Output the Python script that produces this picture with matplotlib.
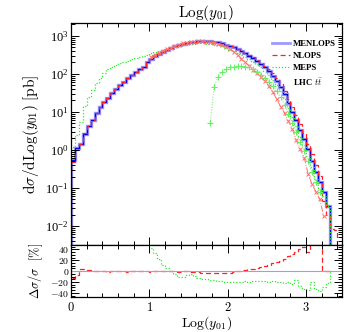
import numpy as np
import matplotlib
matplotlib.use('Agg')
import matplotlib.pyplot as plt
from matplotlib.ticker import MultipleLocator, LogLocator, FuncFormatter, NullFormatter
from matplotlib.lines import Line2D

plt.rcParams['mathtext.fontset'] = 'cm'
plt.rcParams['font.family'] = 'serif'
plt.rcParams['font.serif'] = ['Liberation Serif', 'DejaVu Serif']

bin_width = 0.05

# log10 of dsigma/dLog(y01) per bin, bins start at 0
menlops = [-0.27, 0.05, 0.15, 0.42, 0.62, 0.80, 0.97, 1.12, 1.25, 1.37,
           1.49, 1.60, 1.70, 1.79, 1.88, 1.96, 2.04, 2.12, 2.19, 2.30,
           2.40, 2.47, 2.53, 2.58, 2.63, 2.67, 2.72, 2.76, 2.79, 2.81,
           2.83, 2.85, 2.86, 2.86, 2.86, 2.86, 2.85, 2.83, 2.80, 2.77,
           2.74, 2.70, 2.65, 2.60, 2.55, 2.48, 2.42, 2.34, 2.26, 2.17,
           2.07, 1.95, 1.82, 1.66, 1.47, 1.24, 1.00, 0.78, 0.52, 0.28,
           0.02, -0.30, -0.58, -0.85, -1.10, -1.48]

nlops = [-0.32, 0.01, 0.16, 0.44, 0.63, 0.80, 0.97, 1.12, 1.25, 1.37,
         1.49, 1.60, 1.70, 1.79, 1.88, 1.96, 2.04, 2.12, 2.19, 2.30,
         2.40, 2.47, 2.53, 2.58, 2.63, 2.67, 2.72, 2.76, 2.79, 2.81,
         2.83, 2.84, 2.85, 2.85, 2.85, 2.84, 2.83, 2.81, 2.78, 2.76,
         2.73, 2.70, 2.65, 2.60, 2.56, 2.49, 2.44, 2.37, 2.29, 2.21,
         2.12, 2.01, 1.88, 1.73, 1.56, 1.34, 1.12, 0.91, 0.67, 0.44,
         0.16, -0.12, -0.40, -0.68, -1.35, -1.70, -2.07, -2.10]

meps = [0.08, 0.39, 0.74, 1.15, 1.40, 1.58, 1.75, 1.90, 2.02, 2.12,
        2.19, 2.24, 2.28, 2.32, 2.35, 2.38, 2.41, 2.44, 2.47, 2.50,
        2.54, 2.57, 2.60, 2.63, 2.66, 2.69, 2.71, 2.72, 2.75, 2.77,
        2.78, 2.79, 2.80, 2.80, 2.79, 2.79, 2.77, 2.75, 2.72, 2.68,
        2.64, 2.60, 2.55, 2.50, 2.45, 2.38, 2.32, 2.25, 2.17, 2.08,
        1.97, 1.85, 1.71, 1.54, 1.35, 1.11, 0.86, 0.62, 0.34, 0.12,
        -0.15, -0.44, -0.76, -1.00, -1.22, -1.48]

# curves with markers (first bin index, log10 values)
nlops_x_start = 20
nlops_x = [2.45, 2.50, 2.56, 2.61, 2.65, 2.69, 2.73, 2.77, 2.80, 2.82,
           2.84, 2.85, 2.86, 2.86, 2.85, 2.84, 2.82, 2.79, 2.75, 2.71,
           2.66, 2.58, 2.50, 2.40, 2.30, 2.21, 2.11, 2.02, 1.91, 1.80,
           1.68, 1.52, 1.33, 1.14, 0.96, 0.75, 0.55, 0.25, 0.02, -0.20,
           -0.62, -0.90, -1.10, -1.30, -1.75]

meps_plus_start = 35
meps_plus = [0.70, 1.66, 1.93, 2.05, 2.13, 2.17, 2.19, 2.20, 2.20, 2.19,
             2.17, 2.12, 2.06, 1.98, 1.89, 1.79, 1.68, 1.55, 1.38, 1.18,
             0.95, 0.72, 0.48, 0.22, -0.02, -0.30, -0.58, -0.85, -1.10]

# ratio panel, (X - MENLOPS)/MENLOPS in %
ratio_nlops = [-12, -8, 3, 4, 2, 1, 0, 1, 0, -1,
               0, 1, 0, 0, -1, 0, 1, 0, 0, 0,
               -1, 0, 0, 1, 0, 0, 0, -1, 0, 0,
               -1, -2, -2, -3, -3, -4, -4, -4, -4, -3,
               -3, -1, 0, 1, 2, 3, 4, 6, 7, 9,
               11, 14, 16, 18, 22, 27, 31, 36, 40, 44,
               36, 60, 60, 60, 0, 0]

ratio_meps = [150, 150, 150, 150, 150, 150, 150, 150, 150, 150,
              150, 150, 150, 150, 150, 150, 150, 150, 150, 150,
              42, 33, 22, 12, 6, 0, -5, -11, -10, -8,
              -6, -9, -12, -14, -15, -16, -17, -18, -19, -20,
              -21, -21, -20, -20, -19, -20, -19, -19, -18, -19,
              -20, -19, -21, -20, -22, -20, -24, -17, -27, -33,
              -34, -20, -33, -36, -30, -22]

c_blue = '#0000ee'
c_lblue = '#9a9aff'
c_red = '#ff2020'
c_lred = '#ff7070'
c_green = '#22ee22'
c_lgreen = '#66ee66'


def edges_for(vals, start=0):
    return bin_width * (start + np.arange(len(vals) + 1))


def centers_for(vals, start):
    return bin_width * (start + np.arange(len(vals)) + 0.5)


fig = plt.figure(figsize=(3.47, 3.32), dpi=100)
ax = fig.add_axes([0.205, 0.262, 0.781, 0.669])
axr = fig.add_axes([0.205, 0.105, 0.781, 0.157], sharex=ax)

base = 1e-6
ax.stairs(10 ** np.array(menlops), edges_for(menlops), baseline=base,
          color=c_lblue, lw=2.4)
ax.stairs(10 ** np.array(menlops), edges_for(menlops), baseline=base,
          color=c_blue, lw=0.9)
ax.stairs(10 ** np.array(nlops), edges_for(nlops), baseline=base,
          color=c_red, lw=0.9, ls=(0, (4, 2.5)))
ax.stairs(10 ** np.array(meps), edges_for(meps), baseline=base,
          color=c_green, lw=0.9, ls=(0, (1, 1.5)))
ax.plot(centers_for(nlops_x, nlops_x_start), 10 ** np.array(nlops_x),
        color=c_lred, lw=0.7, ls='-.', marker='x', ms=2.5, mew=0.7)
ax.plot(centers_for(meps_plus, meps_plus_start), 10 ** np.array(meps_plus),
        color=c_lgreen, lw=0.7, ls=':', marker='+', ms=4, mew=0.8)

ax.set_yscale('log')
ax.set_xlim(0, 3.46)
ax.set_ylim(10 ** -2.5, 10 ** 3.34)

axr.axhline(0, color=c_lblue, lw=0.8)
axr.stairs(ratio_nlops, edges_for(ratio_nlops), baseline=0,
           color=c_red, lw=0.9, ls=(0, (4, 2.5)))
axr.stairs(ratio_meps, edges_for(ratio_meps), baseline=0,
           color=c_green, lw=0.9, ls=(0, (1, 1.5)))
axr.set_ylim(-48, 48)

# ticks
math_int = FuncFormatter(lambda v, p: r'$%d$' % round(v))
ax.yaxis.set_major_locator(LogLocator(base=10, numticks=20))
ax.yaxis.set_minor_locator(LogLocator(base=10, subs=np.arange(2, 10), numticks=20))
ax.yaxis.set_minor_formatter(NullFormatter())
ax.xaxis.set_major_locator(MultipleLocator(1))
ax.xaxis.set_minor_locator(MultipleLocator(0.2))
axr.yaxis.set_major_locator(MultipleLocator(20))
axr.yaxis.set_minor_locator(MultipleLocator(5))
axr.xaxis.set_major_formatter(math_int)
axr.yaxis.set_major_formatter(math_int)
plt.setp(ax.get_xticklabels(), visible=False)

for a in (ax, axr):
    a.tick_params(which='both', direction='in', top=True, right=True, width=0.7)
    a.tick_params(which='major', length=6, labelsize=9, pad=2)
    a.tick_params(which='minor', length=3)
    for s in a.spines.values():
        s.set_linewidth(0.9)
axr.tick_params(axis='y', which='major', labelsize=7, pad=1.5)
axr.tick_params(axis='x', which='major', labelsize=9, pad=3)

ax.set_title(r'$\mathrm{Log}(y_{01})$', fontsize=11, pad=4)
ax.set_ylabel(r'$\mathrm{d}\sigma/\mathrm{dLog}(y_{01})\ \mathrm{[pb]}$', fontsize=11, labelpad=3)
axr.set_ylabel(r'$\Delta\sigma/\sigma\ \ [\%]$', fontsize=9, labelpad=4)
axr.set_xlabel(r'$\mathrm{Log}(y_{01})$', fontsize=10, labelpad=0)
fig.align_ylabels([ax, axr])

handles = [Line2D([], [], color=c_lblue, lw=2.0),
           Line2D([], [], color=c_red, lw=0.9, ls=(0, (4, 2.5))),
           Line2D([], [], color=c_green, lw=0.9, ls=(0, (1, 1.5))),
           Line2D([], [], color='none')]
labels = ['MENLOPS', 'NLOPS', 'MEPS', r'LHC $t\bar{t}$']
ax.legend(handles, labels, loc='upper right', frameon=False,
          prop={'family': 'serif', 'weight': 'bold', 'size': 6.3},
          handlelength=2.0, handletextpad=0.4, labelspacing=0.45,
          borderaxespad=0.3, bbox_to_anchor=(1.0, 0.95))

fig.savefig('out.png', dpi=100)
